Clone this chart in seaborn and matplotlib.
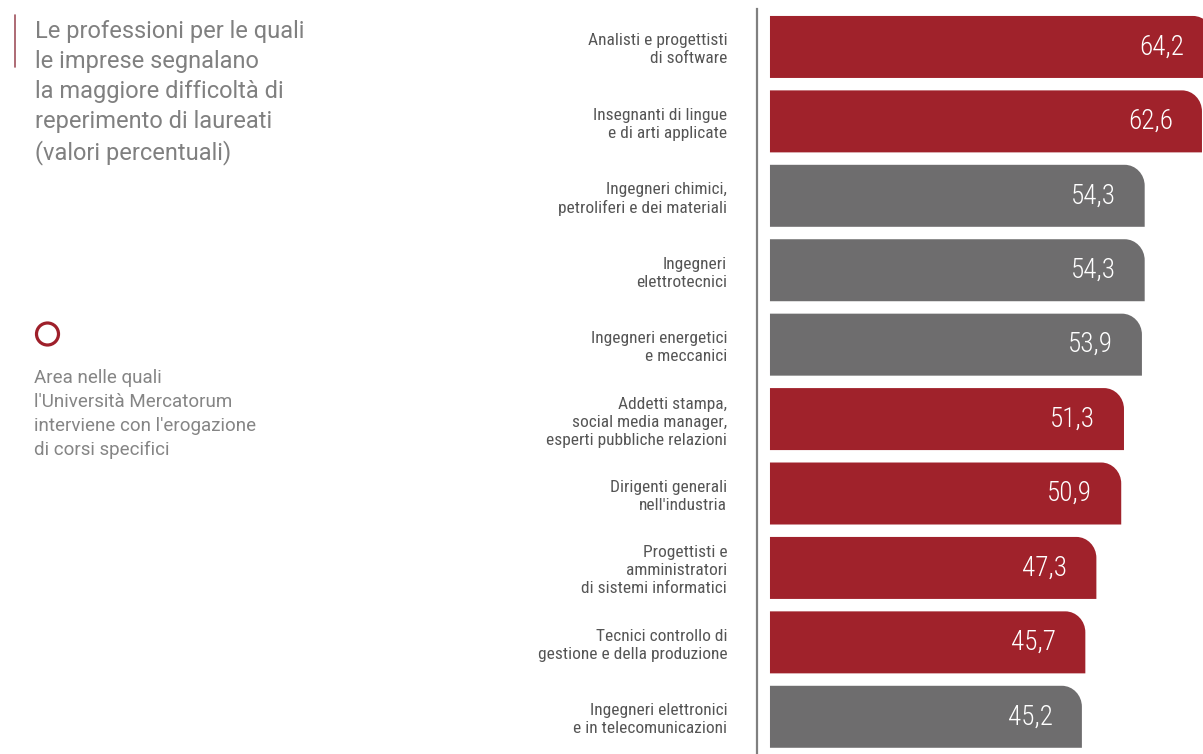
import numpy as np
import pandas as pd
import seaborn as sns
import matplotlib
matplotlib.use("Agg")
import matplotlib.pyplot as plt
from matplotlib import font_manager
from matplotlib.path import Path
from matplotlib.patches import PathPatch, Ellipse
from matplotlib.transforms import offset_copy

# ---------------- data ----------------
professions = [
    "Analisti e progettisti\ndi software",
    "Insegnanti di lingue\ne di arti applicate",
    "Ingegneri chimici,\npetroliferi e dei materiali",
    "Ingegneri\nelettrotecnici",
    "Ingegneri energetici\ne meccanici",
    "Addetti stampa,\nsocial media manager,\nesperti pubbliche relazioni",
    "Dirigenti generali\nnell'industria",
    "Progettisti e\namministratori\ndi sistemi informatici",
    "Tecnici controllo di\ngestione e della produzione",
    "Ingegneri elettronici\ne in telecomunicazioni",
]
values = [64.2, 62.6, 54.3, 54.3, 53.9, 51.3, 50.9, 47.3, 45.7, 45.2]
mercatorum = [True, True, False, False, False, True, True, True, True, False]

title_text = ("Le professioni per le quali\nle imprese segnalano\n"
              "la maggiore difficoltà di\nreperimento di laureati\n(valori percentuali)")
legend_text = ("Area nelle quali\nl'Università Mercatorum\n"
               "interviene con l'erogazione\ndi corsi specifici")

RED = "#a0222b"
GRAY = "#6e6d6e"

# ---------------- fonts ----------------
sns.set_theme(style="white")
avail = {f.name for f in font_manager.fontManager.ttflist}
if "Roboto Condensed" in avail:
    NARROW = "Roboto Condensed"
elif "Liberation Sans Narrow" in avail:
    NARROW = "Liberation Sans Narrow"
else:
    NARROW = "Liberation Sans"
plt.rcParams["font.family"] = ["Roboto", "DejaVu Sans"]

W, H = 1203, 754
fig = plt.figure(figsize=(W / 100, H / 100), dpi=100)
fig.patch.set_facecolor("white")

def fx(px):
    return px / W

def fy(py):
    return 1 - py / H

ax = fig.add_axes([fx(757), 0, fx(1203) - fx(757), (H - 9) / H])

df = pd.DataFrame({
    "professione": professions,
    "valore": values,
    "area": ["Mercatorum" if m else "Altro" for m in mercatorum],
})

sns.barplot(data=df, x="valore", y="professione", hue="area",
            palette={"Mercatorum": RED, "Altro": GRAY}, dodge=False,
            legend=False, width=0.833, ax=ax, saturation=1, order=professions)

ax.set_xlim(-1.88, 62.75)
ax.set_ylim(9.5, -0.51)

# rounded top-right corner for each bar
rx = 20 / 6.9     # data units in x
ry = 21 / 74.4    # data units in y
k = 0.5523
for p in list(ax.patches):
    x0 = p.get_x()
    w = p.get_width()
    if w <= 0:
        continue
    y0 = p.get_y()
    h = p.get_height()
    ytop, ybot = min(y0, y0 + h), max(y0, y0 + h)
    x1 = x0 + w
    verts = [
        (x0, ybot),
        (x0, ytop),
        (x1 - rx, ytop),
        (x1 - rx + k * rx, ytop), (x1, ytop + ry - k * ry), (x1, ytop + ry),
        (x1, ybot),
        (x0, ybot),
    ]
    codes = [Path.MOVETO, Path.LINETO, Path.LINETO,
             Path.CURVE4, Path.CURVE4, Path.CURVE4,
             Path.LINETO, Path.CLOSEPOLY]
    pp = PathPatch(Path(verts, codes), facecolor=p.get_facecolor(),
                   edgecolor="none", lw=0)
    ax.add_patch(pp)
    p.set_visible(False)

# value labels
tr = offset_copy(ax.transData, fig=fig, x=-29, y=0, units="dots")
for i, v in enumerate(values):
    ax.text(v, i, f"{v:.1f}".replace(".", ","), transform=tr,
            ha="right", va="center", color="white", fontsize=19.5,
            fontweight="light", family=[NARROW, "DejaVu Sans"])

# axes styling
for s in ["top", "right", "bottom"]:
    ax.spines[s].set_visible(False)
ax.spines["left"].set_color("#808080")
ax.spines["left"].set_linewidth(1.6)
ax.set_xlabel("")
ax.set_ylabel("")
ax.set_xticks([])
ax.tick_params(axis="y", length=0, pad=21.5)
for lab in ax.get_yticklabels():
    lab.set_family([NARROW, "DejaVu Sans"])
    lab.set_fontsize(12.5)
    lab.set_color("#555555")
    lab.set_linespacing(1.25)
    lab.set_horizontalalignment("right")
    lab.set_multialignment("right")
ax.set_facecolor("none")

# title block
fig.text(fx(35), fy(20), title_text, ha="left", va="top", fontsize=17,
         fontweight="normal", color="#808080", linespacing=1.38)
fig.add_artist(plt.Line2D([fx(15), fx(15)], [fy(15), fy(67)],
                          color="#a0525c", lw=1.2))

# legend marker and text
circ = Ellipse((fx(47.5), fy(334)), width=22 / W, height=22 / H,
               transform=fig.transFigure, facecolor="none",
               edgecolor="#9e1f2a", lw=2.3)
fig.add_artist(circ)
fig.text(fx(34), fy(369), legend_text, ha="left", va="top", fontsize=13.5,
         fontweight="normal", color="#858585", linespacing=1.42)

fig.savefig("out.png", dpi=100, facecolor="white")
